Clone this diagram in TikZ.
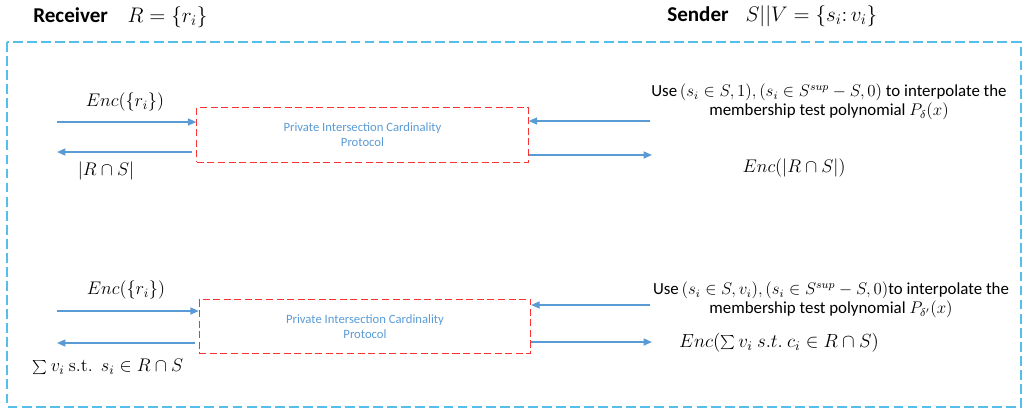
\RequirePackage{fix-cm}
\documentclass[tikz,border=0pt]{standalone}
\usepackage[no-math]{fontspec}
\setmainfont{Carlito}
\usetikzlibrary{arrows.meta}

\definecolor{frecce}{RGB}{91,155,213}
\definecolor{cornice}{RGB}{85,190,235}
\definecolor{rosso}{RGB}{250,50,50}

\tikzset{
  freccia/.style={-{Triangle[length=6pt,width=5pt]}, frecce, line width=1.1pt},
  protocollo/.style={draw=rosso, dash pattern=on 5pt off 2.5pt, line width=0.8pt,
    minimum width=8.28cm, minimum height=1.36cm, align=center, text=frecce,
    font=\fontsize{9}{10.5}\selectfont},
  formula/.style={font=\fontsize{13}{15}\selectfont},
  testo/.style={align=center, font=\fontsize{12}{13.5}\selectfont, inner sep=0pt},
  titolo/.style={anchor=west, inner sep=0pt, font=\fontsize{15}{17}\selectfont}
}

\begin{document}
\begin{tikzpicture}[x=0.025cm, y=-0.025cm, line cap=butt]
\useasboundingbox (0,0) rectangle (1025,410);

% Intestazioni
\node[titolo] (ric) at (33,17) {\textbf{Receiver}\hspace{14pt}$\fontsize{13}{15}\selectfont R=\{r_i\}$};
\node[titolo] (mitt) at (667,16) {\textbf{Sender}\hspace{12pt}$\fontsize{13}{15}\selectfont S||V=\{s_i\colon v_i\}$};

% Riquadro esterno
\draw[cornice, dash pattern=on 7pt off 3pt, line width=0.8pt] (7,42) rectangle (1021,407);

% Primo protocollo
\node[protocollo] (pic1) at (362.5,135) {Private Intersection Cardinality\\Protocol};

\coordinate (r1in) at (57,122);
\coordinate (r1out) at (57,152);
\coordinate (s1in) at (650,121);
\coordinate (s1out) at (652,155);

\draw[freccia] (r1in) -- (r1in -| pic1.west);
\draw[freccia] ([xshift=-3pt]pic1.west |- r1out) -- (r1out);
\draw[freccia] (s1in) -- (s1in -| pic1.east);
\draw[freccia] (pic1.east |- s1out) -- (s1out);

\node[formula] (enc1) at (125,102) {$Enc(\{r_i\})$};
\node[formula] (card1) at (106,171) {$|R\cap S|$};
\node[testo] (uso1) at (829,102) {Use\,$(s_i\in S,1),(s_i\in S^{sup}-S,0)$ to interpolate the\\membership test polynomial $P_\delta(x)$};
\node[formula] (encc1) at (794,168) {$Enc(|R\cap S|)$};

% Secondo protocollo
\node[protocollo] (pic2) at (365,326.5) {Private Intersection Cardinality\\Protocol};

\coordinate (r2in) at (57,311);
\coordinate (r2out) at (57,343);
\coordinate (s2in) at (650,305);
\coordinate (s2out) at (652,342);

\draw[freccia] (r2in) -- (r2in -| pic2.west);
\draw[freccia] ([xshift=-3pt]pic2.west |- r2out) -- (r2out);
\draw[freccia] (s2in) -- (s2in -| pic2.east);
\draw[freccia] (pic2.east |- s2out) -- (s2out);

\node[formula] (enc2) at (126,290) {$Enc(\{r_i\})$};
\node[formula] (somma2) at (108,367) {$\sum v_i\ \mathrm{s.t.}\ \ s_i\in R\cap S$};
\node[testo] (uso2) at (831,300) {Use\,$(s_i\in S,v_i),(s_i\in S^{sup}-S,0)$to interpolate the\\membership test polynomial $P_{\delta'}(x)$};
\node[formula, font=\fontsize{13.5}{15}\selectfont] (encc2) at (779,343) {$Enc(\sum v_i\ s.t.\ c_i\in R\cap S)$};

\end{tikzpicture}
\end{document}
